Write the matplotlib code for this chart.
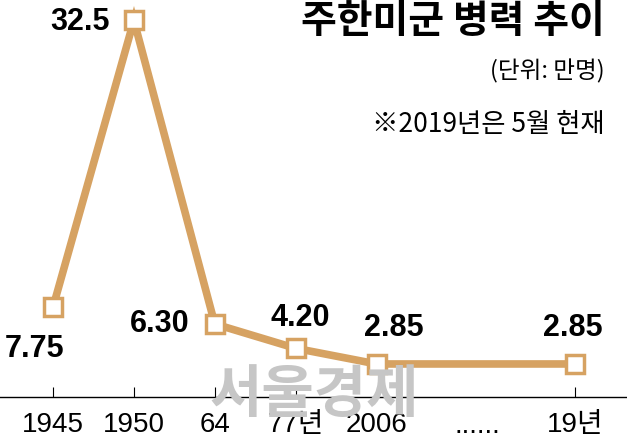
import matplotlib.pyplot as plt

years = ["1945", "1950", "64", "77년", "2006", "19년"]
troops = [7.75, 32.5, 6.30, 4.20, 2.85, 2.85]
value_labels = ["7.75", "32.5", "6.30", "4.20", "2.85", "2.85"]
xpos = [0, 1, 2, 3, 4, 6.45]

line_color = "#d6a262"
num_font = ["Liberation Sans", "Noto Sans CJK KR"]
kr_font = ["Noto Sans CJK KR", "DejaVu Sans"]

fig = plt.figure(figsize=(6.27, 4.43), dpi=100)
ax = fig.add_axes([0, 46 / 443, 1, 394 / 443])
ax.set_xlim(-0.655, 7.095)
ax.set_ylim(0, 34)

ax.plot(xpos, troops, color=line_color, lw=5.5, marker="s", ms=12.5,
        mfc="white", mec=line_color, mew=2.5, zorder=3, solid_joinstyle="miter")

# value labels: (dx, dy) in pixels, alignment
offsets = [(-18, -42, "center"), (-24, -2, "right"), (-25, 0, "right"),
           (5, 30, "center"), (17, 36, "center"), (-2, 36, "center")]
for x, y, s, (dx, dy, ha) in zip(xpos, troops, value_labels, offsets):
    ax.annotate(s, (x, y), xytext=(dx, dy), textcoords="offset pixels",
                ha=ha, va="center", fontsize=22, fontweight="bold",
                family=num_font, color="black", zorder=4)

for s in ["top", "right", "left"]:
    ax.spines[s].set_visible(False)
ax.spines["bottom"].set_linewidth(1)
ax.spines["bottom"].set_zorder(2)
ax.set_yticks([])
ax.set_xticks(xpos)
ax.set_xticklabels(years, family=num_font, fontsize=20)
ax.tick_params(axis="x", direction="in", length=7, width=0.8, pad=11)
ax.text(5.24, -2.5, "......", ha="center", va="center", fontsize=20,
        family=num_font, transform=ax.transData, clip_on=False)

# watermark
fig.text(314 / 627, 1 - 395 / 443, "서울경제", ha="center", va="center",
         fontsize=41, fontweight="bold", family=kr_font, color="#c6c6c6", zorder=0)

fig.text(605 / 627, 1 - 22 / 443, "주한미군 병력 추이", ha="right", va="center",
         fontsize=28, fontweight="bold", family=kr_font)
fig.text(605 / 627, 1 - 71 / 443, "(단위: 만명)", ha="right", va="center",
         fontsize=17, family=kr_font)
fig.text(605 / 627, 1 - 124 / 443, "※2019년은 5월 현재", ha="right", va="center",
         fontsize=19, family=kr_font)

fig.savefig("out.png", dpi=100)
